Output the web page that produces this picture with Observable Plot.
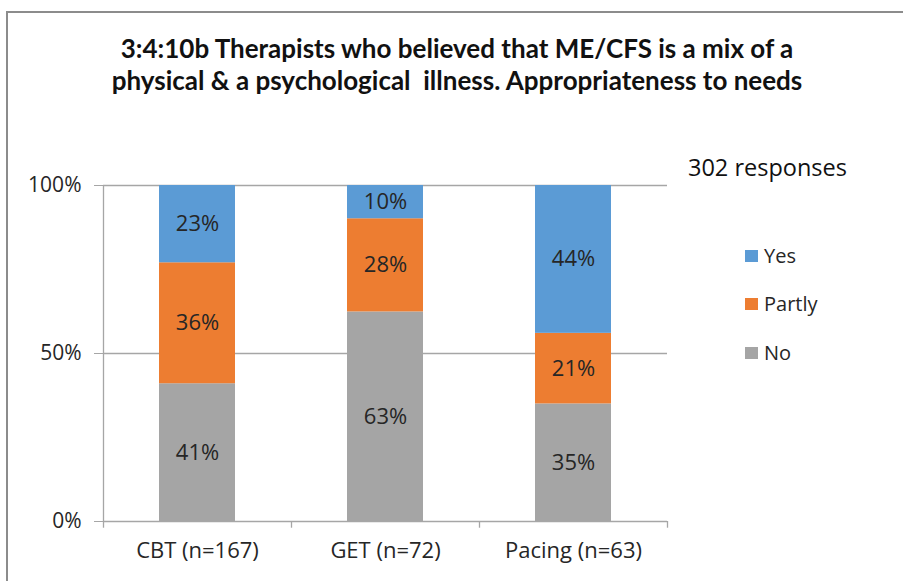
<!DOCTYPE html>
<html>
<head>
<meta charset="utf-8">
<script src="https://cdn.jsdelivr.net/npm/d3@7"></script>
<script src="https://cdn.jsdelivr.net/npm/@observablehq/plot@0.6"></script>
<style>
  html, body { margin: 0; padding: 0; background: #fff; }
  #wrap { position: relative; width: 903px; height: 581px; overflow: hidden; font-family: "Open Sans", Lato, sans-serif; color: #262626; }
  #border { position: absolute; left: 6px; top: 11px; width: 1000px; height: 1000px; border-left: 2px solid #8c8c8c; border-top: 2px solid #8c8c8c; }
  #title { position: absolute; left: 7px; width: 900px; top: 32px; text-align: center; font-family: Lato, sans-serif; font-weight: bold; font-size: 26px; line-height: 32px; color: #111; }
  #chart { position: absolute; left: 0; top: 0; }
  #resp { position: absolute; left: 688px; top: 151px; font-size: 23.5px; color: #111; }
  .leg { position: absolute; left: 745px; font-size: 20px; display: flex; align-items: center; color: #262626; }
  .leg span.sw { width: 13px; height: 12px; margin-right: 6px; display: inline-block; }
</style>
</head>
<body>
<div id="wrap">
  <div id="border"></div>
  <div id="chart"></div>
  <div id="title">3:4:10b Therapists who believed that ME/CFS is a mix of a<br>physical &amp; a psychological&nbsp; illness. Appropriateness to needs</div>
  <div id="resp">302 responses</div>
  <div id="legend"></div>
</div>
<script>
const categories = ["CBT (n=167)", "GET (n=72)", "Pacing (n=63)"];
const seriesNames = ["No", "Partly", "Yes"];
const noValues = [41, 63, 35];
const partlyValues = [36, 28, 21];
const yesValues = [23, 10, 44];
const colors = ["#a5a5a5", "#ed7d31", "#5b9bd5"];
const yTicks = [0, 0.5, 1];
const yTickLabels = ["0%", "50%", "100%"];

const seriesValues = [noValues, partlyValues, yesValues];
const data = [];
categories.forEach((c, i) => {
  seriesNames.forEach((s, j) => data.push({category: c, series: s, value: seriesValues[j][i]}));
});

const stackOpts = {x: "category", y: "value", z: "series", order: seriesNames, offset: "normalize"};

const plot = Plot.plot({
  width: 903,
  height: 581,
  marginLeft: 103,
  marginRight: 236,
  marginTop: 185,
  marginBottom: 60,
  style: {fontFamily: "'Open Sans', Lato, sans-serif", fontSize: "20px", color: "#262626", background: "transparent"},
  x: {domain: categories, padding: 0},
  y: {domain: [0, 1]},
  color: {domain: seriesNames, range: colors},
  marks: [
    Plot.ruleY(yTicks.slice(1), {stroke: "#a6a6a6", strokeWidth: 1.3}),
    Plot.barY(data, Plot.stackY({...stackOpts, fill: "series", insetLeft: 56, insetRight: 56})),
    Plot.text(data, Plot.stackY({...stackOpts, text: d => d.value + "%", fill: "#262626", fontSize: 22})),
    Plot.axisY({ticks: yTicks, tickFormat: d => yTickLabels[yTicks.indexOf(d)], tickSize: 9, tickPadding: 13, stroke: "#a6a6a6", fill: "#262626", fontSize: 21, label: null}),
    Plot.axisX({tickSize: 0, tickPadding: 21, fill: "#262626", fontSize: 22, label: null}),
    Plot.ruleY([0], {stroke: "#a6a6a6", strokeWidth: 1.3}),
    Plot.ruleX([0], {x: () => categories[0], dx: -94, y1: 0, y2: 1, stroke: "#a6a6a6", strokeWidth: 1.3}),
    Plot.ruleX(categories, {x: d => d, dx: -94, y1: 0, y2: -0.02, stroke: "#a6a6a6", strokeWidth: 1.3}),
    Plot.ruleX([categories[categories.length - 1]], {x: d => d, dx: 94, y1: 0, y2: -0.02, stroke: "#a6a6a6", strokeWidth: 1.3})
  ]
});
document.getElementById("chart").appendChild(plot);

const legendTops = {Yes: 242, Partly: 290, No: 339};
const legend = document.getElementById("legend");
["Yes", "Partly", "No"].forEach(s => {
  const div = document.createElement("div");
  div.className = "leg";
  div.style.top = legendTops[s] + "px";
  div.innerHTML = `<span class="sw" style="background:${colors[seriesNames.indexOf(s)]}"></span>${s}`;
  legend.appendChild(div);
});
</script>
</body>
</html>
